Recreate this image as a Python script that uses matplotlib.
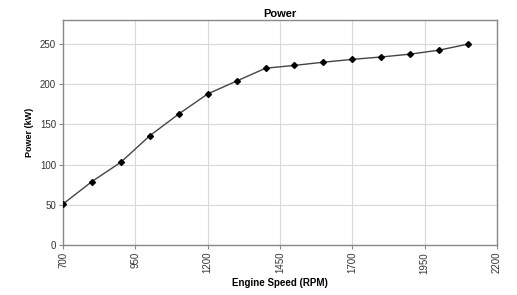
import matplotlib
matplotlib.use("Agg")
import matplotlib.pyplot as plt

rpm = [700, 800, 900, 1000, 1100, 1200, 1300, 1400, 1500, 1600, 1700, 1800, 1900, 2000, 2100]
power = [51, 79, 103, 136, 163, 188, 204, 220, 223.5, 227.5, 231, 234, 237.5, 242.5, 250]
xticks = [700, 950, 1200, 1450, 1700, 1950, 2200]
yticks = [0, 50, 100, 150, 200, 250]

plt.rcParams['font.family'] = ['Liberation Sans', 'DejaVu Sans']
fig = plt.figure(figsize=(5.17, 2.95), dpi=100)
ax = fig.add_axes([63/517, 1-245/295, 434/517, 225/295])
ax.plot(rpm, power, color='#444444', lw=1.0, marker='D', ms=3, mfc='black', mec='black', zorder=3)
ax.set_xlim(700, 2200)
ax.set_ylim(0, 280)
ax.set_xticks(xticks)
ax.set_yticks(yticks)
ax.set_xticklabels([str(t) for t in xticks], rotation=90, fontsize=7, color='#333333')
ax.set_yticklabels([str(t) for t in yticks], fontsize=7, color='#333333')
ax.grid(True, color='#d8d8d8', lw=0.8)
ax.set_axisbelow(True)
for s in ax.spines.values():
    s.set_color('#888888')
    s.set_linewidth(1.0)
ax.tick_params(length=3, color='#888888', pad=2)
ax.set_title('Power', fontsize=8, fontweight='bold', pad=2)
ax.set_xlabel('Engine Speed (RPM)', fontsize=7, fontweight='bold', labelpad=3)
ax.set_ylabel('Power (kW)', fontsize=6.5, fontweight='bold', labelpad=4)
fig.savefig('out.png', dpi=100)
